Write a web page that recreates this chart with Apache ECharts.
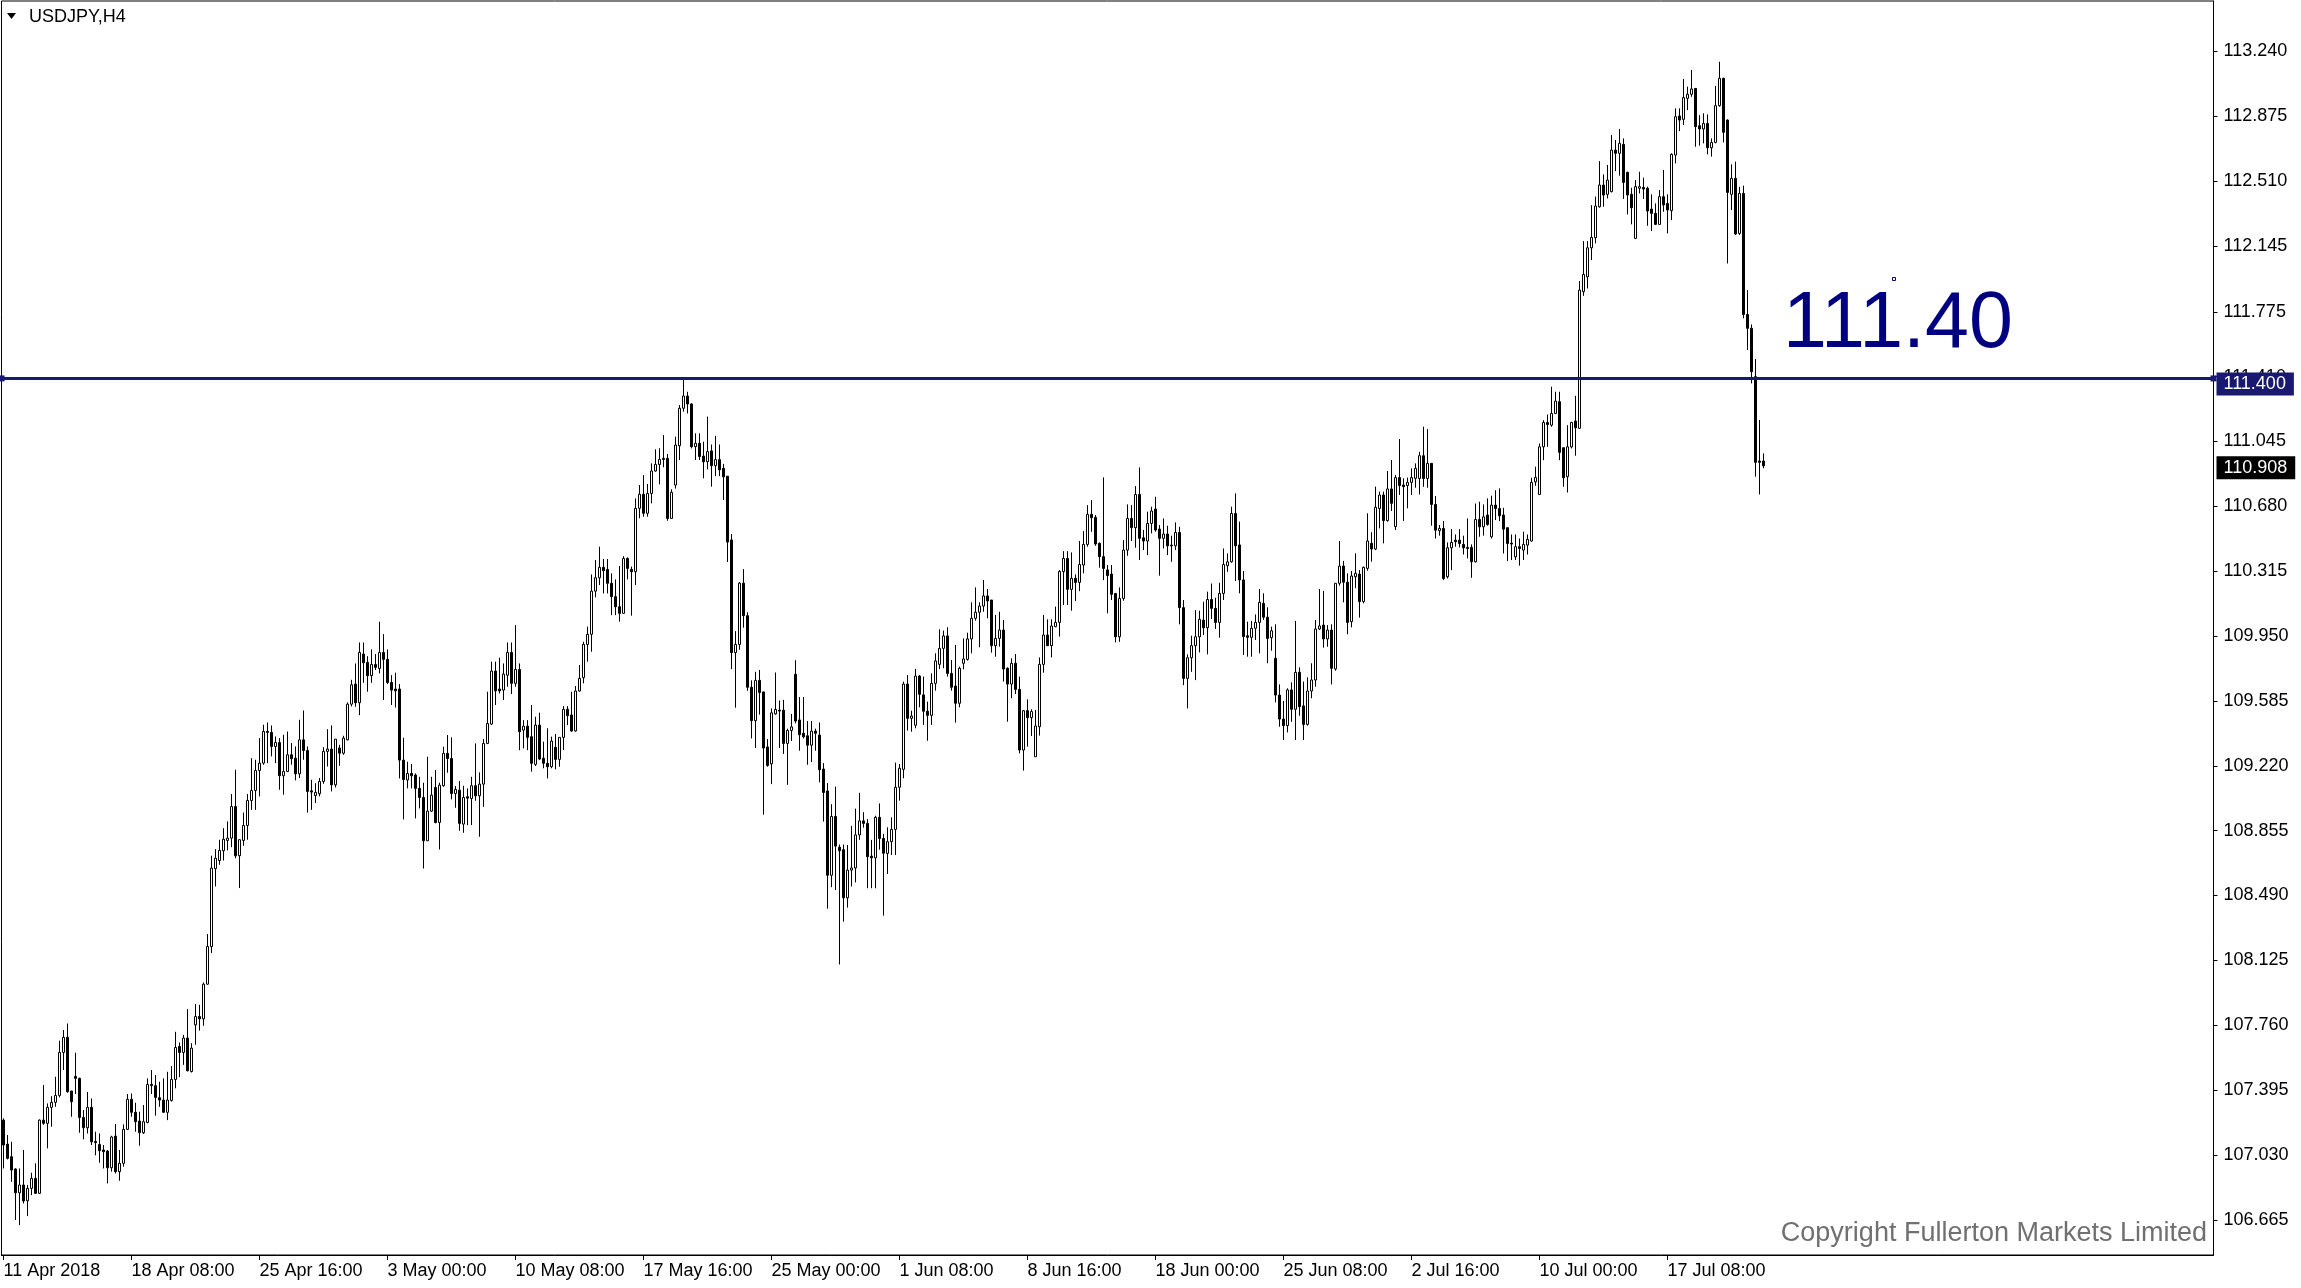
<!DOCTYPE html>
<html><head><meta charset="utf-8"><title>USDJPY,H4</title>
<script src="https://cdn.jsdelivr.net/npm/echarts@6.0.0/dist/echarts.min.js"></script>
<style>html,body{margin:0;padding:0;background:#fff;}#chart{width:2301px;height:1288px;}</style>
</head><body><div id="chart"></div>
<script>
const symbolTitle = 'USDJPY,H4';
const opens = [
107.226,107.091,107.020,106.951,106.817,106.861,106.772,106.842,106.898,106.814,
107.226,107.208,107.298,107.326,107.365,107.607,107.692,107.390,107.472,107.461,
107.241,107.183,107.298,107.106,107.089,107.058,107.052,106.958,107.136,106.936,
106.983,107.174,107.343,107.270,107.221,107.155,107.213,107.427,107.420,107.352,
107.339,107.270,107.337,107.455,107.641,107.607,107.688,107.500,107.762,107.809,
107.796,107.991,108.203,108.641,108.687,108.742,108.800,108.813,108.991,108.714,
108.800,108.884,109.025,109.081,109.194,109.235,109.413,109.408,109.329,109.351,
109.164,109.188,109.282,109.263,109.175,109.366,109.306,109.079,109.053,109.063,
109.132,109.301,109.314,109.113,109.320,109.291,109.366,109.567,109.680,109.575,
109.849,109.802,109.727,109.790,109.768,109.858,109.819,109.689,109.652,109.652,
109.252,109.140,109.177,109.168,109.093,109.042,108.798,108.965,109.098,108.901,
109.108,109.290,109.261,109.064,109.083,108.892,109.046,109.036,109.108,109.051,
109.117,109.346,109.455,109.753,109.652,109.646,109.730,109.858,109.684,109.762,
109.421,109.443,109.384,109.228,109.449,109.262,109.234,109.215,109.324,109.256,
109.380,109.538,109.506,109.416,109.641,109.716,109.903,109.960,110.203,110.278,
110.337,110.325,110.247,110.172,110.115,110.078,110.387,110.325,110.312,110.669,
110.748,110.641,110.753,110.879,110.916,110.950,110.950,110.612,110.800,111.021,
111.232,111.301,111.256,111.016,111.035,110.963,110.931,110.992,110.909,110.943,
110.894,110.850,110.491,109.857,109.903,110.248,110.065,109.662,109.474,109.701,
109.636,109.326,109.231,109.512,109.533,109.533,109.346,109.419,109.735,109.478,
109.403,109.389,109.336,109.415,109.393,109.202,109.078,108.604,108.935,108.762,
108.748,108.477,108.633,108.645,108.831,108.910,108.896,108.712,108.702,108.930,
108.811,108.727,108.793,108.862,109.099,109.200,109.680,109.487,109.448,109.725,
109.619,109.527,109.504,109.684,109.791,109.881,109.951,109.740,109.669,109.572,
109.797,109.819,109.934,110.050,110.084,110.119,110.176,110.153,109.896,109.937,
109.984,109.769,109.680,109.797,109.650,109.309,109.530,109.491,109.271,109.440,
109.791,109.956,109.896,110.003,110.027,110.313,110.387,110.213,110.275,110.252,
110.350,110.466,110.635,110.618,110.472,110.397,110.322,110.299,110.190,109.946,
110.162,110.434,110.612,110.560,110.747,110.503,110.485,110.584,110.665,110.552,
110.500,110.524,110.462,110.458,110.533,110.110,109.712,109.828,109.896,109.946,
110.040,109.997,110.156,110.106,110.027,110.190,110.346,110.368,110.640,110.463,
110.266,109.952,109.943,109.994,110.027,110.134,110.056,109.941,109.825,109.618,
109.483,109.446,109.647,109.538,109.746,109.557,109.453,109.641,109.703,109.990,
110.012,109.934,109.984,109.765,110.247,110.344,110.253,110.031,110.284,110.299,
110.144,110.331,110.472,110.440,110.668,110.744,110.600,110.778,110.566,110.842,
110.800,110.797,110.815,110.838,110.837,110.965,110.837,110.922,110.691,110.543,
110.556,110.284,110.447,110.490,110.490,110.466,110.449,110.449,110.368,110.606,
110.565,110.631,110.509,110.687,110.668,110.631,110.560,110.473,110.396,110.453,
110.434,110.462,110.485,110.818,110.747,111.015,111.152,111.137,111.203,111.269,
111.010,110.847,111.015,111.160,111.119,111.888,111.972,112.135,112.192,112.366,
112.488,112.436,112.451,112.685,112.667,112.717,112.560,112.436,112.188,112.470,
112.475,112.470,112.353,112.329,112.267,112.423,112.385,112.344,112.657,112.877,
112.858,112.976,112.999,113.032,112.822,112.804,112.835,112.698,112.728,112.935,
113.089,112.854,112.436,112.526,112.216,112.441,111.760,111.682,111.410,110.935,
110.935];
const closes = [
107.086,107.011,106.945,106.817,106.861,106.771,106.842,106.898,106.814,107.226,
107.208,107.298,107.326,107.365,107.607,107.692,107.386,107.330,107.461,107.241,
107.183,107.298,107.104,107.099,107.054,107.048,106.958,107.131,106.936,106.983,
107.174,107.343,107.270,107.217,107.155,107.217,107.427,107.420,107.354,107.339,
107.270,107.339,107.455,107.635,107.607,107.688,107.504,107.631,107.809,107.796,
107.991,108.203,108.644,108.700,108.744,108.807,108.813,108.991,108.714,108.804,
108.884,109.025,109.081,109.194,109.235,109.413,109.408,109.329,109.351,109.164,
109.188,109.282,109.260,109.175,109.366,109.306,109.076,109.072,109.070,109.132,
109.301,109.314,109.113,109.370,109.291,109.376,109.567,109.676,109.575,109.858,
109.800,109.727,109.790,109.774,109.858,109.819,109.689,109.646,109.642,109.252,
109.143,109.177,109.164,109.093,109.042,108.798,108.965,109.055,108.901,109.111,
109.290,109.261,109.064,109.087,108.896,109.042,109.038,109.108,109.051,109.117,
109.346,109.458,109.753,109.642,109.642,109.736,109.858,109.684,109.762,109.412,
109.443,109.380,109.234,109.449,109.258,109.234,109.215,109.359,109.256,109.380,
109.538,109.502,109.416,109.641,109.712,109.903,109.960,110.203,110.278,110.337,
110.318,110.247,110.172,110.115,110.078,110.387,110.331,110.312,110.669,110.748,
110.641,110.753,110.879,110.916,110.944,110.944,110.612,110.759,111.025,111.232,
111.301,111.256,111.016,111.035,110.960,110.931,110.988,110.909,110.943,110.886,
110.846,110.479,109.857,109.903,110.248,110.065,109.662,109.474,109.701,109.632,
109.320,109.222,109.518,109.537,109.528,109.346,109.419,109.439,109.472,109.395,
109.383,109.336,109.415,109.403,109.198,109.070,108.604,108.935,108.768,108.742,
108.477,108.633,108.645,108.831,108.910,108.896,108.708,108.702,108.930,108.811,
108.728,108.793,108.862,109.099,109.206,109.680,109.487,109.500,109.725,109.622,
109.527,109.504,109.684,109.810,109.881,109.951,109.740,109.662,109.572,109.769,
109.821,109.934,110.050,110.084,110.119,110.176,110.148,109.896,109.937,109.984,
109.765,109.680,109.797,109.650,109.309,109.530,109.491,109.525,109.444,109.791,
109.956,109.896,110.007,110.027,110.313,110.387,110.213,110.275,110.252,110.353,
110.466,110.635,110.616,110.468,110.397,110.331,110.290,110.185,109.946,110.162,
110.434,110.612,110.560,110.747,110.500,110.485,110.584,110.654,110.547,110.500,
110.524,110.458,110.458,110.533,110.110,109.712,109.828,109.896,109.946,110.044,
109.997,110.156,110.106,110.027,110.190,110.353,110.368,110.640,110.458,110.266,
109.947,109.943,109.994,110.027,110.140,110.056,109.937,109.980,109.618,109.483,
109.446,109.647,109.538,109.746,109.553,109.453,109.641,109.703,109.990,110.007,
109.934,109.984,109.769,110.247,110.344,110.253,110.027,110.288,110.303,110.144,
110.337,110.485,110.440,110.675,110.744,110.600,110.778,110.697,110.842,110.797,
110.791,110.815,110.842,110.894,110.965,110.837,110.922,110.691,110.546,110.556,
110.274,110.447,110.477,110.481,110.471,110.447,110.443,110.368,110.606,110.565,
110.621,110.578,110.687,110.668,110.627,110.552,110.471,110.468,110.453,110.443,
110.466,110.494,110.815,110.843,111.015,111.152,111.141,111.203,111.272,110.984,
110.841,111.015,111.152,111.122,111.897,111.985,112.135,112.194,112.370,112.488,
112.432,112.516,112.685,112.667,112.723,112.503,112.432,112.361,112.479,112.479,
112.466,112.342,112.329,112.267,112.423,112.376,112.348,112.661,112.873,112.854,
112.980,112.999,113.029,112.817,112.804,112.835,112.698,112.728,112.935,113.089,
112.785,112.447,112.526,112.213,112.441,111.760,111.682,111.438,110.928,110.928,
110.908];
const lows = [
106.954,107.005,106.879,106.664,106.635,106.757,106.686,106.804,106.810,106.810,
107.200,107.067,107.189,107.301,107.354,107.508,107.380,107.245,107.373,107.155,
107.118,107.151,107.086,107.028,106.986,106.954,106.870,106.936,106.926,106.885,
106.964,107.170,107.245,107.161,107.082,107.148,107.208,107.373,107.251,107.301,
107.268,107.226,107.330,107.405,107.468,107.537,107.500,107.494,107.650,107.730,
107.757,107.988,108.166,108.541,108.663,108.687,108.744,108.762,108.700,108.532,
108.770,108.804,108.972,108.972,109.048,109.226,109.235,109.273,109.235,109.085,
109.057,109.185,109.226,109.138,109.151,109.254,108.957,108.972,109.010,109.048,
109.119,109.216,109.076,109.098,109.220,109.282,109.363,109.554,109.552,109.505,
109.687,109.637,109.687,109.759,109.740,109.590,109.680,109.562,109.548,109.149,
108.918,109.093,109.093,108.924,108.980,108.642,108.798,108.961,108.896,108.749,
109.102,109.181,109.031,108.984,108.854,108.843,108.886,108.886,109.023,108.821,
108.989,109.342,109.449,109.562,109.627,109.590,109.665,109.624,109.665,109.308,
109.318,109.308,109.187,109.219,109.252,109.206,109.149,109.206,109.200,109.215,
109.309,109.449,109.412,109.412,109.637,109.684,109.806,109.862,110.168,110.237,
110.190,110.190,110.068,110.068,110.031,110.078,110.269,110.065,110.237,110.613,
110.622,110.622,110.697,110.875,110.804,110.900,110.599,110.612,110.780,110.941,
111.213,111.203,111.006,110.941,110.941,110.838,110.888,110.791,110.850,110.850,
110.716,110.367,109.764,109.547,109.873,109.997,109.642,109.374,109.320,109.508,
108.945,109.215,109.117,109.508,109.320,109.287,109.113,109.360,109.459,109.305,
109.374,109.226,109.241,109.305,109.127,108.906,108.416,108.537,108.521,108.102,
108.343,108.422,108.541,108.564,108.803,108.872,108.531,108.531,108.531,108.748,
108.377,108.611,108.718,108.718,109.024,109.150,109.418,109.412,109.431,109.549,
109.450,109.361,109.450,109.643,109.765,109.769,109.722,109.643,109.463,109.549,
109.763,109.812,109.853,110.037,109.887,110.087,110.050,109.857,109.834,109.890,
109.694,109.468,109.600,109.624,109.290,109.193,109.328,109.388,109.271,109.390,
109.744,109.896,109.830,110.000,109.947,110.125,110.125,110.093,110.147,110.203,
110.303,110.453,110.537,110.458,110.335,110.265,110.078,110.153,109.914,109.918,
110.149,110.402,110.485,110.447,110.378,110.434,110.406,110.528,110.537,110.290,
110.443,110.406,110.368,110.434,110.016,109.674,109.543,109.749,109.702,109.858,
109.956,109.847,110.046,109.990,109.941,110.153,110.312,110.363,110.260,110.191,
109.844,109.834,109.834,109.928,109.853,110.041,109.797,109.868,109.577,109.440,
109.365,109.408,109.468,109.365,109.502,109.365,109.446,109.600,109.665,109.984,
109.885,109.890,109.678,109.755,110.234,110.140,109.960,109.999,110.219,110.054,
110.134,110.318,110.369,110.434,110.556,110.472,110.594,110.654,110.547,110.744,
110.598,110.669,110.744,110.785,110.747,110.790,110.785,110.571,110.499,110.515,
110.265,110.274,110.321,110.453,110.449,110.409,110.387,110.278,110.364,110.509,
110.515,110.571,110.499,110.603,110.597,110.415,110.372,110.378,110.378,110.346,
110.378,110.409,110.481,110.796,110.747,110.940,111.015,111.128,111.199,110.940,
110.790,110.758,111.006,110.965,111.119,111.865,111.906,112.066,112.160,112.361,
112.366,112.413,112.447,112.567,112.541,112.410,112.323,112.267,112.184,112.441,
112.410,112.259,112.229,112.263,112.263,112.338,112.216,112.291,112.610,112.792,
112.826,112.910,112.985,112.704,112.710,112.723,112.661,112.648,112.723,112.929,
112.728,112.047,112.348,112.207,112.207,111.738,111.560,111.372,110.847,110.747,
110.894];
const highs = [
107.236,107.142,107.104,106.955,106.954,107.058,106.861,106.930,106.983,107.230,
107.423,107.320,107.361,107.470,107.673,107.733,107.770,107.390,107.605,107.465,
107.283,107.384,107.348,107.161,107.151,107.086,107.058,107.138,107.204,107.058,
107.202,107.373,107.376,107.324,107.273,107.311,107.461,107.508,107.480,107.442,
107.461,107.498,107.530,107.723,107.663,107.706,107.851,107.659,107.879,107.875,
108.001,108.273,108.714,108.751,108.804,108.869,108.907,109.061,109.198,108.807,
108.957,109.061,109.263,109.254,109.376,109.451,109.464,109.447,109.385,109.376,
109.395,109.413,109.348,109.329,109.479,109.531,109.329,109.141,109.122,109.151,
109.325,109.426,109.447,109.370,109.338,109.389,109.577,109.704,109.796,109.914,
109.914,109.837,109.875,109.849,110.031,109.961,109.875,109.730,109.744,109.680,
109.378,109.243,109.230,109.177,109.158,109.125,109.271,109.158,109.196,109.125,
109.327,109.393,109.380,109.106,109.134,109.108,109.093,109.158,109.346,109.183,
109.370,109.637,109.806,109.806,109.828,109.796,109.914,109.914,110.012,109.796,
109.477,109.477,109.562,109.496,109.519,109.356,109.431,109.384,109.399,109.380,
109.556,109.556,109.637,109.669,109.787,109.918,110.003,110.297,110.378,110.453,
110.384,110.384,110.303,110.269,110.344,110.400,110.393,110.341,110.725,110.800,
110.856,110.806,110.922,111.001,111.007,111.081,110.975,110.776,111.072,111.250,
111.400,111.325,111.260,111.091,111.091,111.044,111.185,111.028,111.077,111.028,
110.919,110.850,110.524,109.978,110.254,110.327,110.084,109.701,109.749,109.759,
109.636,109.370,109.543,109.745,109.587,109.591,109.429,109.512,109.814,109.607,
109.607,109.472,109.472,109.429,109.464,109.235,109.123,109.004,109.103,108.777,
108.777,108.774,108.882,108.979,109.068,108.959,108.920,108.803,108.939,109.008,
108.837,108.874,108.930,109.238,109.230,109.694,109.731,109.530,109.765,109.731,
109.722,109.581,109.740,109.853,109.988,109.981,110.000,109.815,109.900,109.778,
109.937,109.969,110.140,110.224,110.140,110.266,110.215,110.153,110.069,110.087,
110.041,109.774,109.825,109.849,109.722,109.534,109.594,109.538,109.534,109.830,
110.069,110.044,110.044,110.116,110.322,110.428,110.428,110.421,110.297,110.485,
110.541,110.687,110.715,110.631,110.477,110.843,110.350,110.350,110.190,110.224,
110.490,110.691,110.687,110.794,110.899,110.547,110.650,110.678,110.734,110.575,
110.612,110.571,110.515,110.590,110.565,110.153,109.847,109.952,110.096,110.093,
110.143,110.200,110.246,110.166,110.250,110.443,110.415,110.678,110.753,110.594,
110.316,110.031,110.035,110.072,110.215,110.191,110.112,110.003,110.016,109.678,
109.585,109.656,109.690,110.035,109.774,109.694,109.718,109.797,110.041,110.215,
110.204,110.012,110.016,110.247,110.485,110.373,110.303,110.316,110.416,110.322,
110.341,110.641,110.534,110.791,110.763,110.763,110.879,110.941,110.857,111.059,
110.838,110.842,110.894,110.922,110.987,111.128,111.115,110.922,110.738,110.575,
110.597,110.477,110.552,110.522,110.552,110.515,110.612,110.466,110.696,110.706,
110.691,110.725,110.740,110.771,110.781,110.672,110.560,110.522,110.522,110.499,
110.537,110.522,110.841,110.903,111.034,111.165,111.197,111.353,111.325,111.325,
111.010,111.137,111.156,111.302,111.948,112.173,112.173,112.375,112.423,112.623,
112.548,112.601,112.770,112.742,112.804,112.751,112.563,112.473,112.516,112.563,
112.530,112.479,112.436,112.385,112.460,112.573,112.436,112.667,112.920,112.920,
113.085,113.042,113.136,113.032,112.882,112.892,112.886,112.751,113.046,113.182,
113.092,112.858,112.605,112.620,112.478,112.485,111.897,111.704,111.509,111.166,
110.978];
const levelPrice = 111.40;
const levelText = '111.40';
const lastPrice = 110.908;
const yTickValues = [106.665,107.030,107.395,107.760,108.125,108.490,108.855,109.220,109.585,109.950,110.315,110.680,111.045,111.410,111.775,112.145,112.510,112.875,113.240];
const xTickLabels = ['11 Apr 2018','18 Apr 08:00','25 Apr 16:00','3 May 00:00','10 May 08:00','17 May 16:00','25 May 00:00','1 Jun 08:00','8 Jun 16:00','18 Jun 00:00','25 Jun 08:00','2 Jul 16:00','10 Jul 00:00','17 Jul 08:00'];
const xTickEvery = 32;
const totalSlots = 553;
const copyrightText = 'Copyright Fullerton Markets Limited';

// H4 bar times (weekdays only), also covering the empty space right of the last bar
const MONTHS = ['Jan','Feb','Mar','Apr','May','Jun','Jul','Aug','Sep','Oct','Nov','Dec'];
const categories = [];
(function () {
  let t = Date.UTC(2018, 3, 11, 0, 0, 0);
  const p2 = n => (n < 10 ? '0' : '') + n;
  while (categories.length < totalSlots) {
    const d = new Date(t);
    const wd = d.getUTCDay();
    if (wd !== 0 && wd !== 6) {
      categories.push(d.getUTCDate() + ' ' + MONTHS[d.getUTCMonth()] + ' ' + d.getUTCFullYear() + ' ' + p2(d.getUTCHours()) + ':00');
    }
    t += 4 * 3600 * 1000;
  }
})();

const candles = opens.map((o, i) => [o, closes[i], lows[i], highs[i]]);

const FONT = '"Liberation Sans", Arial, sans-serif';
const yMin = 106.467, yMax = 113.524;
const showTick = (idx) => idx % xTickEvery === 0 && idx < opens.length;

const graphics = [
  { type: 'polygon', shape: { points: [[7, 13], [16, 13], [11.5, 19]] }, style: { fill: '#000' }, silent: true },
  { type: 'text', x: 29, y: 17, style: { text: symbolTitle, fill: '#000', fontSize: 18, fontFamily: FONT, verticalAlign: 'middle', align: 'left' }, silent: true },
  { type: 'text', x: 1783, y: 325, style: { text: levelText, fill: '#000080', fontSize: 79, fontFamily: FONT, verticalAlign: 'middle', align: 'left' }, silent: true },
  { type: 'rect', shape: { x: 1892.5, y: 277.5, width: 3, height: 3 }, style: { fill: 'none', stroke: '#000080', lineWidth: 1 }, silent: true },
  { type: 'text', x: 2207, y: 1234, style: { text: copyrightText, fill: '#707070', fontSize: 27, fontFamily: FONT, verticalAlign: 'middle', align: 'right' }, silent: true }
];
if (!(opens.length === closes.length && closes.length === lows.length && lows.length === highs.length)) {
  graphics.push({ type: 'text', x: 300, y: 100, style: { text: 'LEN ' + [opens.length, closes.length, lows.length, highs.length].join(','), fill: 'red', fontSize: 30 } });
}

const boxRich = (bg) => ({ backgroundColor: bg, color: '#fff', fontSize: 18, fontFamily: FONT, lineHeight: 18, padding: [3, 8, 2, 7] });

const chart = echarts.init(document.getElementById('chart'), null, { renderer: 'canvas' });
chart.setOption({
  animation: false,
  backgroundColor: '#ffffff',
  grid: { left: 1.5, right: 87.5, top: 1, bottom: 33, show: true, borderColor: '#000', borderWidth: 1, backgroundColor: '#fff' },
  xAxis: {
    type: 'category', data: categories, boundaryGap: true,
    axisLine: { show: true, lineStyle: { color: '#000', width: 1 } },
    axisTick: { show: true, alignWithLabel: true, interval: showTick, length: 5, lineStyle: { color: '#000' } },
    axisLabel: { interval: showTick, formatter: (v, idx) => xTickLabels[idx / xTickEvery] || '', align: 'left', margin: 7, color: '#000', fontSize: 18, fontFamily: FONT },
    splitLine: { show: false }
  },
  yAxis: [{
    type: 'value', position: 'right', min: yMin, max: yMax,
    axisLine: { show: true, lineStyle: { color: '#000', width: 1 } },
    axisTick: { show: true, customValues: yTickValues, length: 4, lineStyle: { color: '#000' } },
    axisLabel: { customValues: yTickValues, formatter: v => v.toFixed(3), color: '#000', fontSize: 18, fontFamily: FONT, margin: 10 },
    splitLine: { show: false }
  }, {
    type: 'value', position: 'right', min: yMin, max: yMax,
    axisLine: { show: false }, axisTick: { show: false }, splitLine: { show: false },
    axisLabel: {
      customValues: [levelPrice], margin: 3, padding: [11, 0, 0, 0],
      formatter: () => '{b|' + levelPrice.toFixed(3) + '}',
      rich: { b: boxRich('#191970') }
    }
  }, {
    type: 'value', position: 'right', min: yMin, max: yMax,
    axisLine: { show: false }, axisTick: { show: false }, splitLine: { show: false },
    axisLabel: {
      customValues: [lastPrice], margin: 3, padding: [4, 0, 0, 0],
      formatter: () => '{b|' + lastPrice.toFixed(3) + '}',
      rich: { b: boxRich('#000000') }
    }
  }],
  series: [{
    type: 'candlestick', name: symbolTitle, data: candles, yAxisIndex: 0,
    barWidth: 2, silent: true, emphasis: { disabled: true },
    itemStyle: { color: '#ffffff', color0: '#000000', borderColor: '#000000', borderColor0: '#000000', borderColorDoji: '#000000', borderWidth: 1 },
    markLine: {
      silent: true, animation: false, symbol: ['rect', 'rect'], symbolSize: [6, 6],
      label: { show: false },
      lineStyle: { color: '#191970', width: 3, type: 'solid' },
      emphasis: { disabled: true },
      data: [{ yAxis: levelPrice }]
    }
  }],
  graphic: graphics
});
</script></body></html>
